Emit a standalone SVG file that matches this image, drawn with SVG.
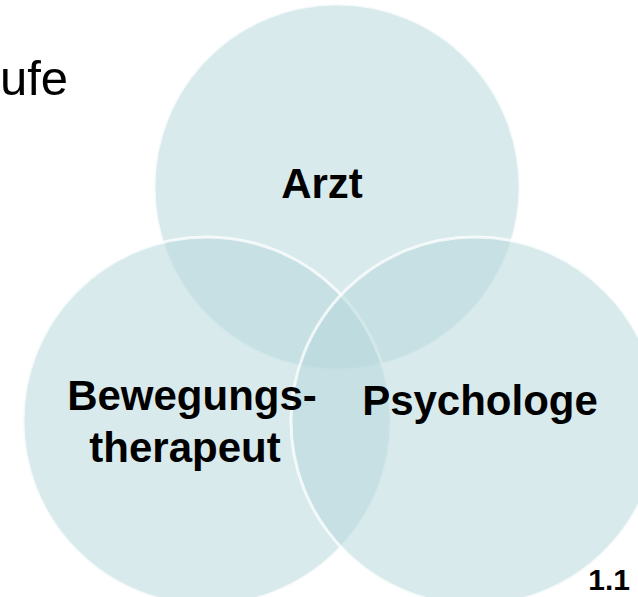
<svg xmlns="http://www.w3.org/2000/svg" width="638" height="597" viewBox="0 0 638 597">
<defs>
<style>
.c{fill:rgb(183,216,220);fill-opacity:0.54;stroke:#ffffff;stroke-opacity:0.75;stroke-width:3}
.t{font-family:"Liberation Sans",Arial,sans-serif;font-weight:bold;font-size:42px;fill:#000;text-anchor:middle}
</style>
</defs>
<rect width="638" height="597" fill="#ffffff"/>
<text x="0" y="95" font-family="Liberation Sans, Arial, sans-serif" font-size="49" fill="#000">ufe</text>
<g id="arzt">
<circle class="c" cx="337" cy="187" r="183"/>
</g>
<g id="bewegungstherapeut">
<circle class="c" cx="207" cy="421" r="184"/>
</g>
<g id="psychologe">
<circle class="c" cx="475" cy="421" r="184"/>
</g>
<g id="connectors"></g>
<g id="labels">
<text class="t" x="322" y="198">Arzt</text>
<text class="t" x="192" y="410">Bewegungs-</text>
<text class="t" x="185" y="462">therapeut</text>
<text class="t" x="480" y="415">Psychologe</text>
<text class="t" x="630" y="590" style="font-size:30px;text-anchor:end">1.1</text>
</g>
</svg>
